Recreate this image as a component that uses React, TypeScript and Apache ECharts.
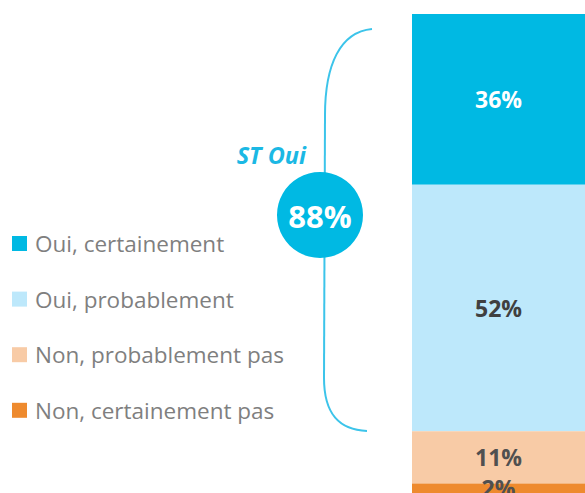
import React, { useEffect, useRef } from "react";
import * as echarts from "echarts";

const categories = ["Total"];
const seriesNames = ["Oui, certainement", "Oui, probablement", "Non, probablement pas", "Non, certainement pas"];
const seriesValues = [36, 52, 11, 2];
const seriesColors = ["#00B9E3", "#BDE8FB", "#F8CBA6", "#EE8A2E"];
const labelColors = ["#ffffff", "#404040", "#505050", "#505050"];
const totalLabel = "88%";
const totalTitle = "ST Oui";

export default function App() {
  const ref = useRef<HTMLDivElement>(null);
  useEffect(() => {
    if (!ref.current) return;
    const chart = echarts.init(ref.current, undefined, { renderer: "svg" });
    const font = "'Open Sans', Lato, sans-serif";
    const bracketColor = "#3CC4EA";
    chart.setOption({
      animation: false,
      grid: { left: 412, right: -18, top: 14, bottom: -1, containLabel: false },
      xAxis: { type: "category", data: categories, show: false },
      yAxis: { type: "value", min: 0, max: 101, inverse: true, show: false },
      legend: {
        orient: "vertical",
        left: 12,
        top: 232,
        padding: 0,
        icon: "rect",
        itemWidth: 15,
        itemHeight: 15,
        itemGap: 32.6,
        data: seriesNames,
        textStyle: { color: "#7F7F7F", fontSize: 22.5, fontFamily: font, lineHeight: 22, padding: [0, 0, 0, 3] },
        selectedMode: false,
      },
      series: seriesNames.map((name, i) => ({
        name,
        type: "bar",
        stack: "total",
        barWidth: "100%",
        data: [seriesValues[i]],
        itemStyle: { color: seriesColors[i] },
        label: {
          show: true,
          position: "inside",
          formatter: "{c}%",
          color: labelColors[i],
          fontSize: 23,
          fontWeight: "bold",
          fontFamily: font,
        },
      })),
      graphic: [
        {
          type: "bezierCurve",
          shape: { x1: 372, y1: 29, cpx1: 340, cpy1: 32, cpx2: 325, cpy2: 65, x2: 325, y2: 115 },
          style: { stroke: bracketColor, lineWidth: 2, fill: "none" },
        },
        {
          type: "line",
          shape: { x1: 325, y1: 115, x2: 324, y2: 378 },
          style: { stroke: bracketColor, lineWidth: 2 },
        },
        {
          type: "bezierCurve",
          shape: { x1: 324, y1: 378, cpx1: 324, cpy1: 415, cpx2: 340, cpy2: 430, x2: 367, y2: 431 },
          style: { stroke: bracketColor, lineWidth: 2, fill: "none" },
        },
        {
          type: "circle",
          shape: { cx: 320, cy: 215, r: 43 },
          style: { fill: "#00B9E3" },
        },
        {
          type: "text",
          x: 320,
          y: 216,
          style: {
            text: totalLabel,
            fill: "#ffffff",
            fontSize: 31,
            fontWeight: "bold",
            fontFamily: font,
            align: "center",
            verticalAlign: "middle",
          },
        },
        {
          type: "text",
          x: 306,
          y: 155,
          style: {
            text: totalTitle,
            fill: "#1BB8E4",
            fontSize: 23.5,
            fontWeight: "bold",
            fontStyle: "italic",
            fontFamily: font,
            align: "right",
            verticalAlign: "middle",
          },
        },
      ],
    });
    return () => chart.dispose();
  }, []);
  return <div ref={ref} style={{ width: 585, height: 493, position: "absolute", left: 0, top: 0 }} />;
}
